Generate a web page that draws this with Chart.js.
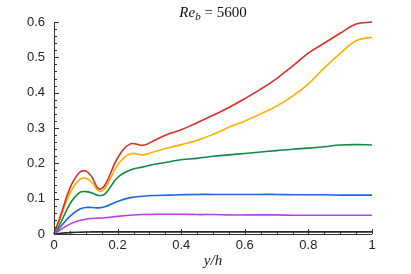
<!DOCTYPE html>
<html>
<head>
<meta charset="utf-8">
<title>Re_b = 5600 profiles</title>
<script src="https://cdn.jsdelivr.net/npm/chart.js@4.4.1/dist/chart.umd.min.js"></script>
<style>
  html, body { margin: 0; padding: 0; background: #fff; }
  #wrap { width: 411px; height: 274px; }
</style>
</head>
<body>
<div id="wrap"><canvas id="myChart" width="411" height="274"></canvas></div>
<script>
// wall-normal positions y/h
const xs = [0, 0.02, 0.05, 0.08, 0.1, 0.12, 0.14, 0.16, 0.2, 0.24, 0.28, 0.32, 0.36, 0.4,
            0.45, 0.5, 0.55, 0.6, 0.65, 0.7, 0.75, 0.8, 0.85, 0.9, 0.95, 1.0];

// curves, top to bottom
const redVals    = [0, 0.05, 0.13, 0.174, 0.178, 0.16, 0.128, 0.138, 0.215, 0.255, 0.251, 0.267, 0.283, 0.295,
                    0.315, 0.336, 0.358, 0.383, 0.41, 0.44, 0.475, 0.512, 0.54, 0.568, 0.594, 0.6];
const orangeVals = [0, 0.045, 0.115, 0.154, 0.158, 0.145, 0.122, 0.128, 0.195, 0.227, 0.224, 0.234, 0.244, 0.253,
                    0.265, 0.282, 0.302, 0.32, 0.34, 0.362, 0.39, 0.425, 0.47, 0.511, 0.547, 0.557];
const greenVals  = [0, 0.03, 0.085, 0.117, 0.12, 0.116, 0.109, 0.113, 0.16, 0.181, 0.19, 0.198, 0.204, 0.21,
                    0.214, 0.22, 0.224, 0.228, 0.232, 0.236, 0.24, 0.243, 0.247, 0.252, 0.253, 0.252];
const blueVals   = [0, 0.02, 0.05, 0.07, 0.075, 0.075, 0.074, 0.077, 0.092, 0.103, 0.107, 0.109, 0.11, 0.111,
                    0.112, 0.112, 0.112, 0.112, 0.112, 0.112, 0.111, 0.111, 0.111, 0.11, 0.11, 0.11];
const purpleVals = [0, 0.012, 0.028, 0.038, 0.042, 0.044, 0.045, 0.046, 0.05, 0.053, 0.055, 0.056, 0.056, 0.056,
                    0.055, 0.055, 0.054, 0.054, 0.054, 0.054, 0.053, 0.053, 0.053, 0.053, 0.053, 0.053];
const blackVals  = [0, 0.002, 0.004, 0.005, 0.0055, 0.006, 0.006, 0.006, 0.006, 0.006, 0.006, 0.006, 0.006, 0.006,
                    0.006, 0.006, 0.006, 0.006, 0.006, 0.006, 0.006, 0.006, 0.006, 0.006, 0.006, 0.006];

const yTicks = [0, 0.1, 0.2, 0.3, 0.4, 0.5, 0.6];
const xTicks = [0, 0.2, 0.4, 0.6, 0.8, 1];

const pts = (arr) => xs.map((x, i) => ({ x: x, y: arr[i] }));

const series = [
  { data: redVals,    color: "rgb(214,48,39)" },
  { data: orangeVals, color: "rgb(255,174,0)" },
  { data: greenVals,  color: "rgb(16,138,68)" },
  { data: blueVals,   color: "rgb(28,104,228)" },
  { data: purpleVals, color: "rgb(190,60,240)" },
  { data: blackVals,  color: "rgb(40,40,40)" },
];

// inward ticks, axis lines and the title with a subscript
const axesPlugin = {
  id: "axesPlugin",
  afterDatasetsDraw(chart) {
    const { ctx, chartArea: a, scales } = chart;
    const xs_ = scales.x, ys_ = scales.y;
    ctx.save();
    ctx.strokeStyle = "#333";
    ctx.lineWidth = 1;
    ctx.beginPath();
    ctx.moveTo(a.left + 0.5, a.top);
    ctx.lineTo(a.left + 0.5, a.bottom + 0.5);
    ctx.lineTo(a.right, a.bottom + 0.5);
    ctx.stroke();
    ctx.beginPath();
    for (let k = 0; k <= 30; k++) {
      const v = k * 0.02;
      const py = Math.round(ys_.getPixelForValue(v)) + 0.5;
      const len = (k % 5 === 0) ? 5 : 3;
      ctx.moveTo(a.left, py);
      ctx.lineTo(a.left + len, py);
    }
    for (let k = 0; k <= 20; k++) {
      const v = k * 0.05;
      const px = Math.round(xs_.getPixelForValue(v)) + 0.5;
      const len = (k % 4 === 0) ? 5 : 3;
      ctx.moveTo(px, a.bottom);
      ctx.lineTo(px, a.bottom - len);
    }
    ctx.stroke();

    // title
    const cx = (a.left + a.right) / 2;
    const ty = 13;
    ctx.fillStyle = "#111";
    ctx.textBaseline = "alphabetic";
    const f1 = "italic 15px 'Liberation Serif'";
    const f2 = "italic 11px 'Liberation Serif'";
    const f3 = "15px 'Liberation Serif'";
    ctx.font = f1; const w1 = ctx.measureText("Re").width;
    ctx.font = f2; const w2 = ctx.measureText("b").width;
    ctx.font = f3; const w3 = ctx.measureText(" = 5600").width;
    let x0 = cx - (w1 + w2 + w3) / 2;
    ctx.textAlign = "left";
    ctx.font = f1; ctx.fillText("Re", x0, ty + 4); x0 += w1;
    ctx.font = f2; ctx.fillText("b", x0, ty + 7); x0 += w2;
    ctx.font = f3; ctx.fillText(" = 5600", x0, ty + 4);
    ctx.restore();
  }
};

const config = {
  type: "line",
  data: {
    datasets: series.map(s => ({
      data: pts(s.data),
      borderColor: s.color,
      backgroundColor: s.color,
      borderWidth: 1.6,
      pointRadius: 0,
      tension: 0.4,
      clip: 4,
    })),
  },
  options: {
    responsive: false,
    animation: false,
    events: [],
    layout: { padding: { top: 22, right: 39, left: 0, bottom: 0 } },
    plugins: {
      legend: { display: false },
      title: { display: false },
      tooltip: { enabled: false },
    },
    scales: {
      x: {
        type: "linear",
        min: 0, max: 1,
        afterBuildTicks: (s) => { s.ticks = xTicks.map(v => ({ value: v })); },
        afterFit: (s) => { s.height = 40; },
        grid: { display: false, drawTicks: false },
        border: { display: false },
        ticks: {
          padding: 4,
          color: "#222",
          font: { family: "'Liberation Sans'", size: 13 },
          callback: (v) => (v === 0 || v === 1) ? String(v) : v.toFixed(1),
        },
        title: {
          display: true,
          text: "y/h",
          color: "#222",
          font: { family: "'Liberation Serif'", style: "italic", size: 15 },
          padding: { top: 0, bottom: 4 },
        },
      },
      y: {
        type: "linear",
        min: 0, max: 0.6,
        afterBuildTicks: (s) => { s.ticks = yTicks.map(v => ({ value: v })); },
        afterFit: (s) => { s.width = 54; },
        grid: { display: false, drawTicks: false },
        border: { display: false },
        ticks: {
          padding: 9,
          color: "#222",
          font: { family: "'Liberation Sans'", size: 13 },
          callback: (v) => v === 0 ? "0" : v.toFixed(1),
        },
      },
    },
  },
  plugins: [axesPlugin],
};

const ctx = document.getElementById("myChart");
const myChart = new Chart(ctx, config);
</script>
</body>
</html>
